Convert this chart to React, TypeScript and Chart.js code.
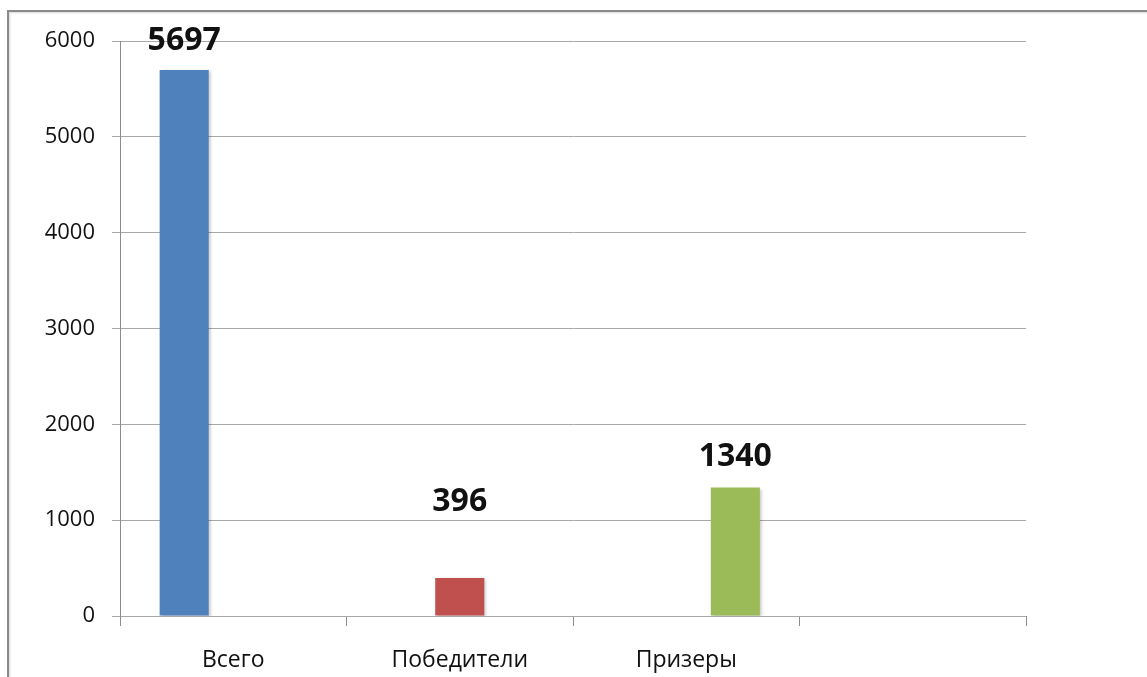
import React, { useEffect, useRef } from "react";
import { Chart, registerables } from "chart.js";

Chart.register(...registerables);

const categories = ["Всего", "Победители", "Призеры", ""];
const seriesNames = ["Всего", "Победители", "Призеры"];
const totalValues = [5697, null, null, null];
const winnerValues = [null, 396, null, null];
const prizeValues = [null, null, 1340, null];
const yMin = 0;
const yMax = 6000;
const yStep = 1000;

const seriesColors = ["#4F81BD", "#C0504D", "#9BBB59"];

const valueLabelPlugin = {
  id: "valueLabels",
  afterDatasetsDraw(chart: any, _args: any, opts: any) {
    const ctx = chart.ctx;
    const lifts: number[] = opts.lifts || [];
    ctx.save();
    ctx.font = opts.font;
    ctx.fillStyle = opts.color;
    ctx.textAlign = "center";
    ctx.textBaseline = "middle";
    chart.data.datasets.forEach((ds: any, di: number) => {
      const meta = chart.getDatasetMeta(di);
      meta.data.forEach((el: any, i: number) => {
        const v = ds.data[i];
        if (v === null || v === undefined) return;
        ctx.fillText(String(v), el.x, el.y - (lifts[di] ?? 30));
      });
    });
    ctx.restore();
  },
};

const barShadowPlugin = {
  id: "barShadow",
  beforeDatasetsDraw(chart: any) {
    const ctx = chart.ctx;
    ctx.save();
    ctx.shadowColor = "rgba(0,0,0,0.22)";
    ctx.shadowBlur = 3;
    ctx.shadowOffsetX = 2;
    ctx.shadowOffsetY = 1;
  },
  afterDatasetsDraw(chart: any) {
    chart.ctx.restore();
  },
};

export default function App() {
  const ref = useRef<HTMLCanvasElement | null>(null);

  useEffect(() => {
    if (!ref.current) return;
    const seriesData = [totalValues, winnerValues, prizeValues];
    const chart = new Chart(ref.current, {
      type: "bar",
      data: {
        labels: categories,
        datasets: seriesNames.map((name, i) => ({
          label: name,
          data: seriesData[i] as any,
          backgroundColor: seriesColors[i],
          borderWidth: 0,
          barPercentage: 1,
          categoryPercentage: 0.65,
        })),
      },
      options: {
        animation: false,
        responsive: true,
        maintainAspectRatio: false,
        layout: { padding: { top: 41, right: 121, bottom: 0, left: 0 } },
        plugins: {
          legend: { display: false },
          tooltip: { enabled: false },
          valueLabels: {
            font: "bold 32px 'Open Sans'",
            color: "#111111",
            lifts: [29, 76, 31],
          },
        } as any,
        scales: {
          x: {
            offset: true,
            grid: {
              display: true,
              offset: true,
              drawOnChartArea: false,
              drawTicks: true,
              tickLength: 10,
              color: "#8c8c8c",
            },
            border: { display: false },
            ticks: {
              color: "#111111",
              font: { family: "'Open Sans'", size: 23 },
              padding: 21,
              maxRotation: 0,
              autoSkip: false,
            },
            afterFit(scale: any) {
              scale.height = 61;
            },
          },
          y: {
            min: yMin,
            max: yMax,
            ticks: {
              stepSize: yStep,
              color: "#111111",
              font: { family: "'Open Sans'", size: 22 },
              padding: 17,
              callback: (v: any) => String(v),
            },
            grid: {
              color: "#a8a8a8",
              tickLength: 8,
              drawTicks: true,
            },
            border: { display: true, color: "#8c8c8c", width: 1 },
            afterFit(scale: any) {
              scale.width = 120;
            },
          },
        },
      },
      plugins: [barShadowPlugin, valueLabelPlugin],
    });
    return () => chart.destroy();
  }, []);

  return (
    <div
      style={{
        position: "absolute",
        left: 0,
        top: 0,
        width: 1147,
        height: 677,
        overflow: "hidden",
        background: "#ffffff",
      }}
    >
      <div
        style={{
          position: "absolute",
          left: 7,
          top: 10,
          width: 1300,
          height: 900,
          borderLeft: "2px solid #8a8a8a",
          borderTop: "2px solid #8a8a8a",
          boxShadow: "1px 1px 2px rgba(0,0,0,0.15) inset",
        }}
      />
      <div style={{ position: "absolute", left: 0, top: 0, width: 1147, height: 677 }}>
        <canvas ref={ref} />
      </div>
    </div>
  );
}
